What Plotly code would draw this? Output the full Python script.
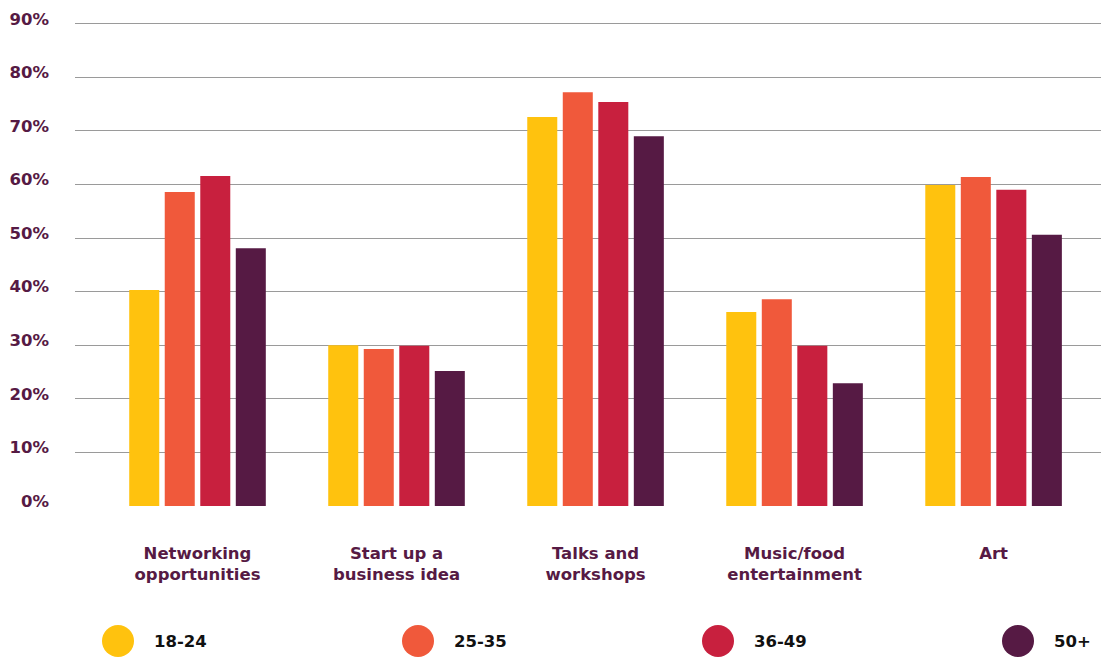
import plotly.graph_objects as go

categories = ["Networking<br>opportunities", "Start up a<br>business idea", "Talks and<br>workshops",
              "Music/food<br>entertainment", "Art"]
age_groups = ["18-24", "25-35", "36-49", "50+"]
v_18_24 = [40.3, 30.0, 72.6, 36.2, 59.9]
v_25_35 = [58.6, 29.3, 77.2, 38.6, 61.4]
v_36_49 = [61.6, 29.9, 75.4, 29.9, 59.0]
v_50p = [48.1, 25.2, 69.0, 22.9, 50.6]
series = [v_18_24, v_25_35, v_36_49, v_50p]
colors = ["#FFC20E", "#F0593B", "#C8203E", "#561A44"]
y_ticks = [0, 10, 20, 30, 40, 50, 60, 70, 80, 90]
y_tick_labels = [f"{t}%" for t in y_ticks]

TEXT = "#561A44"
FONT = "DejaVu Sans"
FS = 16.5

fig = go.Figure()
for name, vals, col in zip(age_groups, series, colors):
    fig.add_trace(go.Bar(x=categories, y=vals, name=name, marker_color=col,
                         marker_line_width=0, showlegend=False))

# the page body adds an 8px offset; figure is sized to fit the window
W, H = 1101, 649
ml, mr, mt, mb = 67, 0, 5, 151
plot_w = W - ml - mr
plot_h = H - mt - mb
PL, PB = 75, 506  # screen position of plot left / bottom

# legend built from circles + labels
for i, (name, col) in enumerate(zip(age_groups, colors)):
    cx = (118 + 300 * i - PL) / plot_w
    cy = (PB - 641) / plot_h
    fig.add_shape(type="circle", xref="paper", yref="paper",
                  xsizemode="pixel", ysizemode="pixel",
                  xanchor=cx, yanchor=cy, x0=-16, x1=16, y0=-16, y1=16,
                  fillcolor=col, line_width=0)
    fig.add_annotation(xref="paper", yref="paper", x=(152 + 300 * i - PL) / plot_w, y=cy,
                       xanchor="left", yanchor="middle", text=f"<b>{name}</b>",
                       showarrow=False, font=dict(family=FONT, size=FS, color="#111111"))

fig.update_layout(
    width=W, height=H,
    margin=dict(l=ml, r=mr, t=mt, b=mb, pad=0, autoexpand=False),
    plot_bgcolor="white", paper_bgcolor="white",
    barmode="group", bargap=0.286, bargroupgap=0.155,
    font=dict(family=FONT, size=FS, color=TEXT, weight="bold"),
)
fig.update_xaxes(range=[-0.6156, 4.58], showgrid=False, showline=False, ticks="",
                 automargin=False, ticklabelstandoff=35,
                 tickfont=dict(family=FONT, size=FS, color=TEXT, weight="bold"),
                 zeroline=False)
fig.update_yaxes(range=[0, 92], tickvals=y_ticks, ticktext=y_tick_labels,
                 showgrid=True, gridcolor="#9a9a9a", gridwidth=1, zeroline=False,
                 showline=False, ticks="", automargin=False,
                 ticklabelstandoff=25, ticklabelshift=-5,
                 tickfont=dict(family=FONT, size=FS, color=TEXT, weight="bold"))

fig.write_html("out.html")
